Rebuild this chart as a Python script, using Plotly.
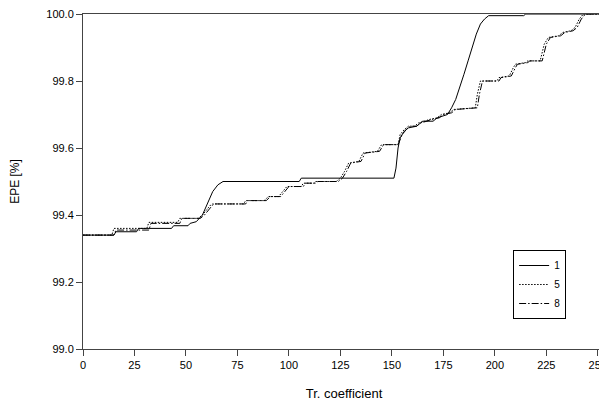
import plotly.graph_objects as go

# Series "1" (solid)
x1 = [0, 15, 16, 26, 27, 43, 44, 51, 52, 55, 58, 60.5, 63, 65.5, 68, 105, 106, 151, 152, 153, 154, 156, 158, 162, 165, 170, 172, 177, 179, 181, 183, 185, 187, 189, 191, 193, 195, 197, 214, 215, 255]
y1 = [99.34, 99.34, 99.35, 99.35, 99.36, 99.36, 99.368, 99.368, 99.375, 99.38, 99.40, 99.435, 99.47, 99.49, 99.50, 99.50, 99.51, 99.51, 99.54, 99.60, 99.63, 99.65, 99.66, 99.665, 99.68, 99.68, 99.69, 99.70, 99.72, 99.745, 99.78, 99.82, 99.86, 99.90, 99.94, 99.97, 99.985, 99.995, 99.995, 100.0, 100.0]

# Series "5" (dotted)
x5 = [0, 14, 15, 31, 32, 46, 47, 56, 58, 60, 62, 63, 78, 79, 88, 90, 95, 97, 99, 106, 107, 112, 113, 123, 125, 127, 129, 134, 136, 143, 145, 153, 154, 156, 158, 161, 163, 166, 168, 172, 174, 178, 180, 190.5, 191.5, 193, 201, 202, 207, 209, 210, 215, 216, 222, 224, 226, 231, 233, 237, 239, 241, 243, 255]
y5 = [99.34, 99.34, 99.36, 99.36, 99.378, 99.378, 99.39, 99.39, 99.40, 99.415, 99.43, 99.433, 99.433, 99.443, 99.443, 99.455, 99.455, 99.47, 99.485, 99.485, 99.495, 99.495, 99.50, 99.50, 99.51, 99.53, 99.555, 99.56, 99.585, 99.59, 99.61, 99.61, 99.64, 99.655, 99.665, 99.665, 99.675, 99.68, 99.685, 99.69, 99.70, 99.705, 99.715, 99.72, 99.76, 99.80, 99.80, 99.81, 99.815, 99.84, 99.85, 99.855, 99.86, 99.86, 99.91, 99.93, 99.935, 99.945, 99.95, 99.96, 99.985, 100.0, 100.0]

# Series "8" (dash-dot)
x8 = [0, 15, 16, 32, 33, 47, 48, 57, 59, 61, 63, 64, 79, 80, 89, 91, 96, 98, 100, 107, 108, 113, 114, 124, 126, 128, 130, 135, 137, 144, 146, 153, 155, 157, 159, 162, 164, 167, 169, 173, 175, 179, 181, 191.5, 192.5, 194, 202, 203, 208, 210, 211, 216, 217, 223, 225, 227, 232, 234, 238, 240, 242, 244, 255]
y8 = [99.34, 99.34, 99.355, 99.355, 99.375, 99.375, 99.39, 99.39, 99.40, 99.415, 99.43, 99.433, 99.433, 99.443, 99.443, 99.455, 99.455, 99.47, 99.485, 99.485, 99.495, 99.495, 99.50, 99.50, 99.51, 99.53, 99.555, 99.56, 99.585, 99.59, 99.61, 99.61, 99.64, 99.655, 99.665, 99.665, 99.675, 99.68, 99.685, 99.69, 99.70, 99.705, 99.715, 99.72, 99.76, 99.80, 99.80, 99.81, 99.815, 99.84, 99.85, 99.855, 99.86, 99.86, 99.91, 99.93, 99.935, 99.945, 99.95, 99.96, 99.985, 100.0, 100.0]

x_ticks = [0, 25, 50, 75, 100, 125, 150, 175, 200, 225, 250]
y_ticks = [99.0, 99.2, 99.4, 99.6, 99.8, 100.0]

series = [
    ("1", x1, y1, "solid"),
    ("5", x5, y5, "1.5px,1.5px"),
    ("8", x8, y8, "7px,2px,1.5px,2px"),
]

fig = go.Figure()
for name, xs, ys, dash in series:
    fig.add_trace(go.Scatter(x=xs, y=ys, mode="lines", name=name,
                             line=dict(color="black", width=1, dash=dash)))

FAM = "Liberation Sans, Arial, sans-serif"
font = dict(family=FAM, size=11, color="black")

fig.update_layout(
    width=599, height=395,
    margin=dict(l=75, r=0, t=6, b=54),
    paper_bgcolor="white", plot_bgcolor="white",
    font=font,
    showlegend=True,
    legend=dict(x=0.824, y=0.2955, xanchor="left", yanchor="top",
                bordercolor="black", borderwidth=1, bgcolor="white",
                font=dict(family=FAM, size=10, color="black"),
                tracegroupgap=0, itemwidth=30),
    xaxis=dict(range=[0, 253.5], tickvals=x_ticks, ticktext=[str(v) for v in x_ticks],
               showgrid=False, zeroline=False, showline=True, linecolor="#444",
               linewidth=1, mirror=True, ticks="outside", ticklen=6, tickcolor="#444",
               ticklabeloverflow="allow",
               tickfont=dict(family=FAM, size=11, color="black"),
               title=dict(text="Tr. coefficient", font=dict(family=FAM, size=13, color="black"), standoff=18)),
    yaxis=dict(range=[99.0, 100.0], tickvals=y_ticks, ticktext=[f"{v:.1f}" for v in y_ticks],
               showgrid=False, zeroline=False, showline=True, linecolor="#444",
               linewidth=1, ticks="outside", ticklen=6, tickcolor="#444",
               ticklabeloverflow="allow",
               tickfont=dict(family=FAM, size=11, color="black"),
               title=dict(text="EPE [%]", font=dict(family=FAM, size=12, color="black"), standoff=27)),
)

fig.write_html("out.html")
